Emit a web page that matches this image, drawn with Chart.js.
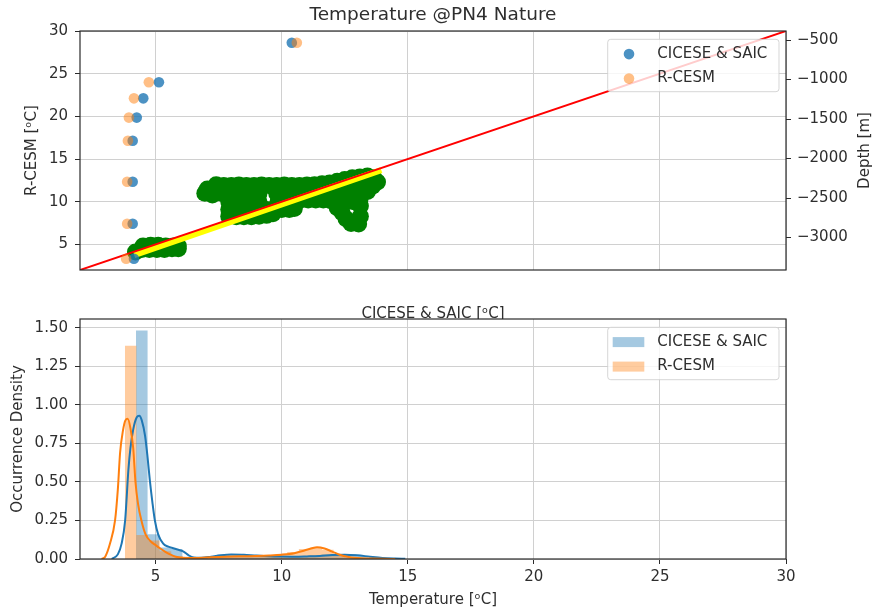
<!DOCTYPE html>
<html>
<head>
<meta charset="utf-8">
<title>Temperature @PN4 Nature</title>
<script src="https://cdn.jsdelivr.net/npm/chart.js@4.4.1/dist/chart.umd.min.js"></script>
<style>
  html, body { margin: 0; padding: 0; background: #fff; }
  canvas { display: block; }
  #wrap { position: relative; width: 874px; height: 613px; }
  #topBox { position: absolute; left: 0; top: 0; width: 874px; height: 319px; overflow: hidden; }
  #botBox { position: absolute; left: 0; top: 300px; width: 874px; height: 313px; }
</style>
</head>
<body>
<div id="wrap">
  <div id="topBox"><canvas id="scatterChart" width="874" height="330"></canvas></div>
  <div id="botBox"><canvas id="histChart" width="874" height="313"></canvas></div>
</div>
<script>
// === DATA: depth profile (twin axis) ===
const depthLevels = [-535, -1035, -1238, -1482, -1774, -2293, -2824, -3267];
const cicesTemp = [10.40, 5.13, 4.51, 4.25, 4.09, 4.09, 4.09, 4.14];
const rcesmTemp = [10.60, 4.73, 4.14, 3.94, 3.90, 3.87, 3.87, 3.83];

// === DATA: CICESE vs R-CESM cloud (green) ===
const cloudX = [
  4.2, 4.45, 4.5, 4.75, 4.8, 5.05, 5.1, 5.35, 5.4, 5.65, 5.7, 5.9, 5.9,
  6.95, 7.05, 7.25, 7.4,
  7.7, 8.0, 8.3, 8.6, 8.9, 9.2, 9.5, 9.8, 10.1, 10.4, 10.7, 11.0, 11.3, 11.6, 11.9, 12.2, 12.5, 12.8, 13.1, 13.4, 13.65, 13.8,
  7.6, 7.9, 8.2, 8.5, 8.8, 9.1, 9.8, 10.1, 10.4, 10.7, 11.0, 11.3, 11.6, 11.9, 12.2, 12.5, 12.8, 13.1, 13.4, 13.6,
  7.9, 8.2, 8.5, 8.8, 9.1, 9.85, 10.15, 10.45, 10.75, 11.05, 11.35, 11.65, 11.95, 12.25, 12.55, 12.85, 13.1,
  7.9, 8.2, 8.5, 8.8, 9.1, 9.4, 9.7, 10.0, 10.3, 10.5,
  7.9, 8.2, 8.5, 8.8, 9.1, 9.4, 9.65,
  12.2, 12.4, 12.55, 12.75, 13.05, 13.12, 13.12
];
const cloudY = [
  4.1, 4.4, 4.8, 4.4, 4.9, 4.4, 4.9, 4.4, 4.8, 4.5, 4.8, 4.5, 4.8,
  11.0, 11.5, 10.8, 12.0,
  11.9, 11.9, 11.95, 11.9, 11.9, 11.95, 11.9, 11.9, 11.95, 11.9, 11.9, 11.95, 12.0, 12.1, 12.2, 12.4, 12.6, 12.8, 12.9, 13.0, 12.8, 12.3,
  11.0, 11.0, 11.0, 11.0, 11.0, 11.0, 11.0, 11.0, 11.0, 11.0, 11.0, 11.0, 11.0, 11.1, 11.2, 11.3, 11.3, 11.3, 11.2, 11.8,
  10.0, 10.0, 10.0, 10.0, 10.0, 10.0, 10.0, 10.1, 10.2, 10.2, 10.2, 10.2, 10.1, 10.0, 10.0, 10.0, 10.2,
  9.1, 9.1, 9.1, 9.1, 9.1, 9.1, 9.1, 9.1, 9.1, 9.2,
  8.3, 8.25, 8.25, 8.25, 8.3, 8.4, 8.6,
  9.3, 8.7, 8.0, 7.45, 7.4, 8.3, 9.5
];
const fitX = [4.15, 13.95];
const fitY = [3.75, 13.7];
const oneToOne = [2, 30];

// === DATA: histograms + kde ===
const binWidth = 0.46;
const rcesmBinStart = 3.78;
const cicesBinStart = 4.22;
const rcesmHist = [1.385, 0.156, 0.12, 0.05, 0.02, 0.005, 0.005, 0.01, 0.015, 0.015, 0.02, 0.02, 0.025, 0.03, 0.045, 0.065, 0.075, 0.06, 0.025, 0.01, 0.005];
const cicesHist = [1.484, 0.16, 0.075, 0.065, 0.015, 0.005, 0.015, 0.03, 0.03, 0.025, 0.02, 0.02, 0.015, 0.015, 0.02, 0.025, 0.03, 0.03, 0.03, 0.02, 0.01];

const cicesKdeX = [3.26, 3.5, 3.65, 3.79, 3.92, 4.0, 4.11, 4.25, 4.35, 4.45, 4.58, 4.68, 4.77, 4.87, 4.97, 5.1, 5.3, 5.5, 5.7, 5.9, 6.09, 6.3, 6.5, 6.8, 7.2, 7.6, 8.0, 8.5, 9.0, 9.5, 10.0, 10.5, 11.0, 11.5, 12.0, 12.5, 13.0, 13.5, 14.0, 14.5, 14.9];
const cicesKdeY = [0, 0.03, 0.1, 0.25, 0.58, 0.72, 0.84, 0.92, 0.93, 0.9, 0.8, 0.66, 0.51, 0.37, 0.25, 0.16, 0.1, 0.08, 0.07, 0.06, 0.05, 0.025, 0.01, 0.008, 0.015, 0.025, 0.03, 0.027, 0.022, 0.018, 0.016, 0.015, 0.017, 0.02, 0.026, 0.028, 0.024, 0.015, 0.007, 0.003, 0.001];
const rcesmKdeX = [2.86, 3.0, 3.19, 3.39, 3.5, 3.59, 3.7, 3.8, 3.89, 4.0, 4.11, 4.2, 4.3, 4.45, 4.6, 4.8, 5.0, 5.17, 5.4, 5.57, 5.8, 6.2, 6.6, 7.0, 7.5, 8.0, 8.5, 9.0, 9.5, 10.0, 10.5, 10.9, 11.2, 11.4, 11.7, 12.0, 12.3, 12.6, 13.0, 13.5, 14.0, 14.5];
const rcesmKdeY = [0, 0.015, 0.1, 0.25, 0.45, 0.69, 0.83, 0.9, 0.91, 0.85, 0.72, 0.5, 0.36, 0.24, 0.16, 0.115, 0.09, 0.07, 0.045, 0.03, 0.015, 0.006, 0.006, 0.009, 0.013, 0.016, 0.018, 0.02, 0.023, 0.028, 0.038, 0.055, 0.07, 0.076, 0.068, 0.048, 0.028, 0.014, 0.006, 0.003, 0.001, 0];

// === TICKS ===
const tempTicks = [5, 10, 15, 20, 25, 30];
const depthTicks = [-3000, -2500, -2000, -1500, -1000, -500];
const densityTicks = [0, 0.25, 0.5, 0.75, 1.0, 1.25, 1.5];

// === STYLE ===
const TXT = '#2e2e2e';
const GRID = '#d0d0d0';
const AXIS = '#2b2b2b';
const BLUE = '#1f77b4';
const ORANGE = '#ff7f0e';

Chart.defaults.font.family = '"DejaVu Sans", sans-serif';
Chart.defaults.font.size = 15;
Chart.defaults.color = TXT;

const fixedTicks = values => scale => { scale.ticks = values.map(v => ({ value: v })); };
const toPoints = (xs, ys) => xs.map((x, i) => ({ x, y: ys[i] }));
const histSteps = (start, heights) => {
  const pts = heights.map((h, i) => ({ x: start + i * binWidth, y: h }));
  pts.push({ x: start + heights.length * binWidth, y: 0 });
  return pts;
};

// === PLUGINS ===
const frame = {
  id: 'frame',
  afterDatasetsDraw(chart) {
    const { ctx, chartArea: a } = chart;
    ctx.save();
    ctx.strokeStyle = AXIS;
    ctx.lineWidth = 1.2;
    ctx.strokeRect(a.left, a.top, a.right - a.left, a.bottom - a.top);
    ctx.restore();
  }
};

const boxLegend = {
  id: 'boxLegend',
  afterDraw(chart) {
    const { ctx, chartArea } = chart;
    const items = chart.data.datasets.filter(d => d.legendKind).sort((a, b) => a.legendRank - b.legendRank);
    const w = 171.3, h = 52.4;
    const x0 = chartArea.right - 7 - w, y0 = chartArea.top + 8.3;
    ctx.save();
    ctx.beginPath();
    if (ctx.roundRect) ctx.roundRect(x0, y0, w, h, 3); else ctx.rect(x0, y0, w, h);
    ctx.fillStyle = 'rgba(255,255,255,0.8)';
    ctx.fill();
    ctx.strokeStyle = 'rgba(204,204,204,0.8)';
    ctx.lineWidth = 1;
    ctx.stroke();
    ctx.font = '15px "DejaVu Sans"';
    ctx.textBaseline = 'middle';
    items.forEach((d, i) => {
      const cy = y0 + 14.8 + i * 24.5;
      ctx.fillStyle = d.legendColor;
      if (d.legendKind === 'circle') {
        ctx.beginPath();
        ctx.arc(x0 + 21.3, cy, 5.3, 0, Math.PI * 2);
        ctx.fill();
      } else {
        ctx.fillRect(x0 + 5, cy - 5, 31.6, 10);
      }
      ctx.fillStyle = TXT;
      ctx.fillText(d.label, x0 + 49.6, cy);
    });
    ctx.restore();
  }
};

const sideTitle = {
  id: 'sideTitle',
  afterDraw(chart, args, opts) {
    if (!opts.text) return;
    const { ctx, chartArea: a } = chart;
    ctx.save();
    ctx.translate(opts.x, (a.top + a.bottom) / 2);
    ctx.rotate(-Math.PI / 2);
    ctx.font = '15px "DejaVu Sans"';
    ctx.fillStyle = TXT;
    ctx.textAlign = 'center';
    ctx.textBaseline = 'middle';
    ctx.fillText(opts.text, 0, 0);
    ctx.restore();
  }
};

// === TOP: scatter + depth profile ===
new Chart(document.getElementById('scatterChart'), {
  type: 'scatter',
  data: {
    datasets: [
      {
        label: 'R-CESM', data: toPoints(rcesmTemp, depthLevels), yAxisID: 'y2',
        pointRadius: 5.3, pointBackgroundColor: 'rgba(255,127,14,0.5)', pointBorderWidth: 0,
        legendKind: 'circle', legendRank: 2, legendColor: 'rgba(255,127,14,0.5)'
      },
      {
        label: 'CICESE & SAIC', data: toPoints(cicesTemp, depthLevels), yAxisID: 'y2',
        pointRadius: 5.3, pointBackgroundColor: 'rgba(31,119,180,0.8)', pointBorderWidth: 0,
        legendKind: 'circle', legendRank: 1, legendColor: 'rgba(31,119,180,0.8)'
      },
      {
        label: '1:1', data: toPoints(oneToOne, oneToOne), showLine: true,
        borderColor: '#ff0000', borderWidth: 2, pointRadius: 0
      },
      {
        label: 'fit', data: toPoints(fitX, fitY), showLine: true,
        borderColor: '#ffff00', borderWidth: 6, pointRadius: 0
      },
      {
        label: 'cloud', data: toPoints(cloudX, cloudY),
        pointRadius: 8.5, pointBackgroundColor: '#008000', pointBorderWidth: 0
      }
    ]
  },
  options: {
    responsive: false,
    animation: false,
    events: [],
    layout: { padding: 0 },
    plugins: {
      legend: { display: false },
      tooltip: { enabled: false },
      title: {
        display: true, text: 'Temperature @PN4 Nature', fullSize: false,
        color: TXT, font: { size: 18.5, weight: 'normal' }, padding: { top: 4, bottom: 4.8 }
      },
      sideTitle: { text: 'Depth [m]', x: 865 }
    },
    scales: {
      x: {
        type: 'linear', min: 2, max: 30,
        afterBuildTicks: fixedTicks(tempTicks),
        afterFit: s => { s.height = 60; },
        ticks: { display: false },
        grid: { color: GRID, drawTicks: false },
        border: { display: false },
        title: { display: true, text: 'CICESE & SAIC [ᵒC]', color: TXT, font: { size: 15 }, padding: { top: 0, bottom: 7 } }
      },
      y: {
        type: 'linear', position: 'left', min: 2, max: 30,
        afterBuildTicks: fixedTicks(tempTicks),
        afterFit: s => { s.width = 80; },
        ticks: { padding: 7, color: TXT, callback: v => String(v) },
        grid: { color: GRID, tickColor: AXIS, tickLength: 5 },
        border: { display: false },
        title: { display: true, text: 'R-CESM [ᵒC]', color: TXT, font: { size: 15 }, padding: { top: 23 } }
      },
      y2: {
        type: 'linear', position: 'right', min: -3410, max: -386,
        afterBuildTicks: fixedTicks(depthTicks),
        afterFit: s => { s.width = 88; },
        ticks: { padding: 6, color: TXT, callback: v => (v < 0 ? '\u2212' + Math.abs(v) : String(v)) },
        grid: { drawOnChartArea: false, tickColor: AXIS, tickLength: 5 },
        border: { display: false }
      }
    }
  },
  plugins: [frame, boxLegend, sideTitle]
});

// === BOTTOM: histogram + kde ===
new Chart(document.getElementById('histChart'), {
  type: 'line',
  data: {
    datasets: [
      {
        label: 'R-CESM kde', data: toPoints(rcesmKdeX, rcesmKdeY),
        borderColor: ORANGE, borderWidth: 2, pointRadius: 0, cubicInterpolationMode: 'monotone', fill: false
      },
      {
        label: 'CICESE & SAIC kde', data: toPoints(cicesKdeX, cicesKdeY),
        borderColor: BLUE, borderWidth: 2, pointRadius: 0, cubicInterpolationMode: 'monotone', fill: false
      },
      {
        label: 'R-CESM', data: histSteps(rcesmBinStart, rcesmHist), stepped: 'before',
        fill: 'origin', backgroundColor: 'rgba(255,127,14,0.4)', borderColor: 'rgba(0,0,0,0)', borderWidth: 0, pointRadius: 0,
        legendKind: 'rect', legendRank: 2, legendColor: 'rgba(255,127,14,0.4)'
      },
      {
        label: 'CICESE & SAIC', data: histSteps(cicesBinStart, cicesHist), stepped: 'before',
        fill: 'origin', backgroundColor: 'rgba(31,119,180,0.4)', borderColor: 'rgba(0,0,0,0)', borderWidth: 0, pointRadius: 0,
        legendKind: 'rect', legendRank: 1, legendColor: 'rgba(31,119,180,0.4)'
      }
    ]
  },
  options: {
    responsive: false,
    animation: false,
    events: [],
    layout: { padding: { top: 19, right: 88, bottom: 0, left: 0 } },
    plugins: {
      legend: { display: false },
      tooltip: { enabled: false }
    },
    scales: {
      x: {
        type: 'linear', min: 2, max: 30,
        afterBuildTicks: fixedTicks(tempTicks),
        afterFit: s => { s.height = 54; },
        ticks: { padding: 4, color: TXT, maxRotation: 0, callback: v => String(v) },
        grid: { color: GRID, tickColor: AXIS, tickLength: 5 },
        border: { display: false },
        title: { display: true, text: 'Temperature [ᵒC]', color: TXT, font: { size: 15 }, padding: { top: 0, bottom: 4 } }
      },
      y: {
        type: 'linear', min: 0, max: 1.558,
        afterBuildTicks: fixedTicks(densityTicks),
        afterFit: s => { s.width = 80; },
        ticks: { padding: 7, color: TXT, callback: v => v.toFixed(2) },
        grid: { color: GRID, tickColor: AXIS, tickLength: 5 },
        border: { display: false },
        title: { display: true, text: 'Occurrence Density', color: TXT, font: { size: 15 }, padding: { top: 9 } }
      }
    }
  },
  plugins: [frame, boxLegend]
});
</script>
</body>
</html>
